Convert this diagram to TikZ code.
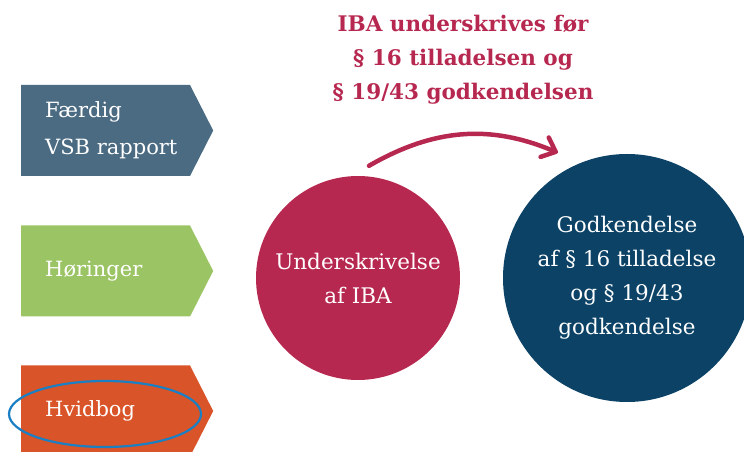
\documentclass[tikz,border=0pt]{standalone}
\usepackage{fontspec}
\setmainfont{DejaVu Serif}
\usetikzlibrary{shapes.symbols,arrows.meta}
\definecolor{vsbblue}{HTML}{4A6B82}
\definecolor{hoergreen}{HTML}{9BC464}
\definecolor{hvidorange}{HTML}{D95428}
\definecolor{ibared}{HTML}{B72850}
\definecolor{godknavy}{HTML}{0B4266}
\definecolor{markblue}{HTML}{1B7FC4}
\begin{document}
\begin{tikzpicture}[x=1pt,y=1pt,
    stage/.style={shape=signal, signal to=east, signal pointer angle=126,
      fill=#1, minimum width=192pt, minimum height=91pt, inner sep=0pt, anchor=west},
    stagetext/.style={text=white, font=\fontsize{21pt}{37pt}\selectfont,
      align=left, inner sep=0pt, anchor=west, xshift=24pt},
    phase/.style={circle, fill=#1, text=white, align=center, inner sep=0pt,
      font=\fontsize{21.5pt}{34pt}\selectfont},
    flowarrow/.style={draw=ibared, line width=4.5pt, line cap=round,
      -{Straight Barb[length=12pt,width=21pt,round]}}]
  \useasboundingbox (0,0) rectangle (744,452);
  \clip (0,0) rectangle (744,452);
  % stages on the left
  \node[stage=vsbblue, label={[stagetext]west:{Færdig\\VSB rapport}}] (vsb) at (21,321.5) {};
  \node[stage=hoergreen, label={[stagetext]west:{Høringer}}] (hoer) at (21,181) {};
  \node[stage=hvidorange, label={[stagetext]west:{Hvidbog}}] (hvid) at (21,41) {};
  \draw[markblue, line width=2.2pt] (105,38) ellipse [x radius=96, y radius=33];
  % circles
  \node[phase=ibared, minimum size=204pt] (iba) at (358,174) {Underskrivelse\\af IBA};
  \node[phase=godknavy, minimum size=248pt] (godk) at (627,174)
    {Godkendelse\\af § 16 tilladelse\\og § 19/43\\godkendelse};
  \node[text=ibared, align=center, anchor=north, inner sep=0pt,
    font=\fontsize{21.5pt}{34pt}\selectfont\bfseries] (title) at (463,437)
    {IBA underskrives før\\§ 16 tilladelsen og\\§ 19/43 godkendelsen};
  \draw[flowarrow] ([shift={(11,10)}]iba.north) to[out=30, in=157]
    ([shift={(-9,16.6)}]godk.119);
\end{tikzpicture}
\end{document}
